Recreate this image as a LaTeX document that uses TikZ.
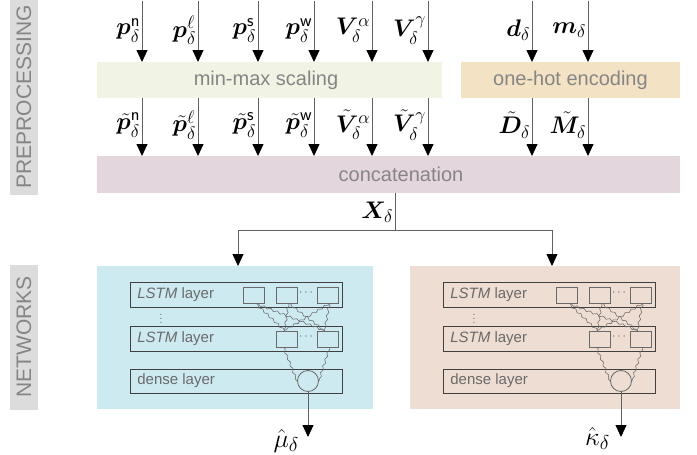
\documentclass[tikz,border=0pt]{standalone}
\usepackage{fix-cm}
\usepackage{amsmath,bm}
\usepackage{fontspec}
\DeclareMathSizes{24}{24}{18}{14}
\DeclareMathSizes{26}{26}{20}{15}
\newfontfamily\labfont{Liberation Sans}
\usetikzlibrary{arrows.meta,decorations.pathmorphing,calc}
\definecolor{txtgray}{HTML}{858585}
\definecolor{sidegray}{HTML}{DCDCDC}
\definecolor{mmcol}{HTML}{F1F3E5}
\definecolor{ohcol}{HTML}{F4E2C5}
\definecolor{cccol}{HTML}{E4D6DD}
\definecolor{bluecol}{HTML}{CDEAF1}
\definecolor{rosecol}{HTML}{EEDDD3}
\definecolor{linegray}{HTML}{606060}
\definecolor{boxline}{HTML}{404040}
\definecolor{cellline}{HTML}{6A6A6A}
\tikzset{
  arr/.style={draw=linegray, line width=0.8pt, -{Triangle[width=11pt,length=12pt,color=black]}},
  plain/.style={draw=linegray, line width=0.8pt},
  bigbox/.style={draw=none, text=txtgray, font=\labfont\fontsize{20}{23}\selectfont},
  sidebox/.style={fill=sidegray, text=txtgray, rotate=90, font=\labfont\fontsize{21}{24}\selectfont, inner sep=0pt},
  lbl/.style={font=\fontsize{24}{27}\selectfont, inner sep=1.5pt},
  outlbl/.style={font=\fontsize{26}{29}\selectfont, inner sep=0pt, anchor=base east},
  layerbox/.style={draw=boxline, line width=0.8pt, text=txtgray!80!black, font=\labfont\fontsize{15}{18}\selectfont},
  cell/.style={draw=cellline, line width=0.8pt},
  dotsty/.style={text=txtgray!70!black, font=\fontsize{12}{12}\selectfont, inner sep=0pt},
  wavy/.style={draw=cellline, line width=0.55pt, decorate, decoration={snake, amplitude=1pt, segment length=7pt}},
}
\begin{document}
\begin{tikzpicture}[x=1pt,y=-1pt]
\useasboundingbox (0,0) rectangle (697,455);
% side labels
\fill[sidegray] (10,0) rectangle (38,195);
\node[sidebox] (pre) at (24,97) {PREPROCESSING};
\fill[sidegray] (10,265) rectangle (38,410);
\node[sidebox] (net) at (24,337) {NETWORKS};
% preprocessing boxes
\fill[mmcol] (97,62) rectangle (442,98);
\node[bigbox] (mm) at (266,80) {min-max scaling};
\coordinate (mmn) at (97,62); \coordinate (mms) at (97,98);
\fill[ohcol] (461,62) rectangle (680,98);
\node[bigbox] (oh) at (570.5,80) {one-hot encoding};
\fill[cccol] (97,156) rectangle (680,193);
\node[bigbox] (cc) at (401,174) {concatenation};
\coordinate (ccn) at (97,156); \coordinate (ccs) at (395,193);
% input arrows
\foreach \x/\a/\b [count=\i] in {
  142/{\bm{p}^{\mathsf{n}}_{\delta}}/{\tilde{\bm{p}}^{\mathsf{n}}_{\delta}},
  198/{\bm{p}^{\ell}_{\delta}}/{\tilde{\bm{p}}^{\ell}_{\delta}},
  258/{\bm{p}^{\mathsf{s}}_{\delta}}/{\tilde{\bm{p}}^{\mathsf{s}}_{\delta}},
  314/{\bm{p}^{\mathsf{w}}_{\delta}}/{\tilde{\bm{p}}^{\mathsf{w}}_{\delta}},
  372/{\bm{V}^{\alpha}_{\delta}}/{\tilde{\bm{V}}^{\alpha}_{\delta}},
  428/{\bm{V}^{\gamma}_{\delta}}/{\tilde{\bm{V}}^{\gamma}_{\delta}},
  532/{\bm{d}_{\delta}}/{\tilde{\bm{D}}_{\delta}},
  588/{\bm{m}_{\delta}}/{\tilde{\bm{M}}_{\delta}}}{
  \coordinate (in\i) at (\x,1);
  \draw[arr] (in\i) -- node[lbl, left, yshift=1pt] (la\i) {$\a$} (in\i |- mmn);
  \draw[arr] (in\i |- mms) -- node[lbl, left, yshift=2pt] (lb\i) {$\b$} (in\i |- ccn);
}
% concatenation output
\coordinate (split) at (395,230);
\coordinate (lsplit) at (238,230);
\coordinate (rsplit) at (552,230);
\draw[plain] (ccs) -- node[lbl, left, yshift=-1pt] (xl) {$\bm{X}_{\delta}$} (split);
\draw[plain] (lsplit) -- (rsplit);
% network boxes
\fill[bluecol] (97,266) rectangle (373,409);
\coordinate (lnet) at (238,266);
\fill[rosecol] (410,266) rectangle (680,409);
\coordinate (rnet) at (552,266);
\draw[arr] (lsplit) -- (lnet);
\draw[arr] (rsplit) -- (rnet);
% networks
\foreach \ox/\nm in {0/L, 313/R}{
  \begin{scope}[xshift=\ox]
  \node[layerbox, minimum width=212pt, minimum height=25pt, anchor=north west, inner sep=0pt] (\nm r1) at (130,282) {};
  \node[layerbox, minimum width=212pt, minimum height=25pt, anchor=north west, inner sep=0pt] (\nm r2) at (130,326) {};
  \node[layerbox, minimum width=212pt, minimum height=24pt, anchor=north west, inner sep=0pt] (\nm r3) at (130,369) {};
  \node[layerbox, draw=none, anchor=west, inner sep=0pt] (\nm t1) at (137,294.5) {\textit{LSTM} layer};
  \node[layerbox, draw=none, anchor=west, inner sep=0pt] (\nm t2) at (137,338.5) {\textit{LSTM} layer};
  \node[layerbox, draw=none, anchor=west, inner sep=0pt] (\nm t3) at (137,381) {dense layer};
  \node[dotsty] (\nm vd) at (161,316) {$\vdots$};
  \node[cell, minimum width=21pt, minimum height=16pt, inner sep=0pt] (\nm a1) at (253.5,295) {};
  \node[cell, minimum width=21pt, minimum height=16pt, inner sep=0pt] (\nm a2) at (286.5,295) {};
  \node[cell, minimum width=21pt, minimum height=16pt, inner sep=0pt] (\nm a3) at (327.5,295) {};
  \node[dotsty] (\nm d1) at (307,293) {$\cdots$};
  \node[cell, minimum width=21pt, minimum height=16pt, inner sep=0pt] (\nm b1) at (286.5,339) {};
  \node[cell, minimum width=21pt, minimum height=16pt, inner sep=0pt] (\nm b2) at (327.5,339) {};
  \node[dotsty] (\nm d2) at (307,337) {$\cdots$};
  \node[cell, circle, minimum size=21pt, inner sep=0pt] (\nm c) at (308,381) {};
  \foreach \s in {1,2,3}{
    \foreach \t/\dx in {1/-2,2/-3}{
      \draw[wavy] ($(\nm a\s.south)+(2,0)$) -- ($(\nm b\t.north)+(\dx,0)$);
    }
  }
  \draw[wavy] ($(\nm b1.south)+(-3,0)$) -- (\nm c.west);
  \draw[wavy] ($(\nm b2.south)+(2,0)$) -- (\nm c.east);
  \end{scope}
}
\coordinate (Lout) at (308,437);
\coordinate (Rout) at (621,437);
\draw[arr] (Lc.south) -- (Lout);
\draw[arr] (Rc.south) -- (Rout);
\node[outlbl] (mu) at (299,447) {$\hat{\mu}_{\delta}$};
\node[outlbl] (ka) at (610,445) {$\hat{\kappa}_{\delta}$};
\end{tikzpicture}
\end{document}
